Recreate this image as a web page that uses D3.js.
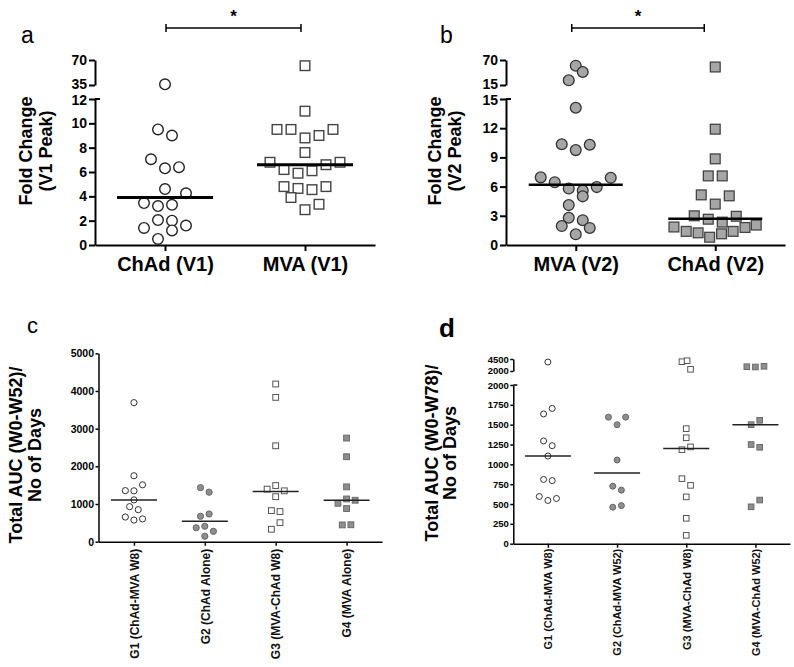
<!DOCTYPE html>
<html><head><meta charset="utf-8">
<script src="https://cdn.jsdelivr.net/npm/d3@7"></script>
<style>
body{margin:0;background:#fff}
svg{display:block}
text{font-family:"Liberation Sans",Arial,sans-serif}
</style></head><body>
<svg id="chart" width="794" height="667"></svg>
<script>
// ---------- Panel a ----------
const aCats = ["ChAd (V1)", "MVA (V1)"];
const aChAd = [36, 9.5, 9.0, 7.05, 6.3, 6.4, 4.6, 4.25, 3.45, 3.2, 3.3, 2.05, 2.0, 1.4, 1.2, 1.6, 0.5];
const aChAdSlot = [0, -1, 1, -2, 0, 2, 0, 3, -3, -1, 1, -1, 1, -3, 1, 3, -1];
const aMVA = [62, 11, 9.5, 9.5, 8.8, 9.0, 9.5, 7.6, 6.8, 6.2, 5.9, 6.1, 6.6, 6.8, 4.8, 4.65, 4.55, 4.8, 3.9, 2.9, 3.35];
const aMVASlot = [0, 0, -4, -2, 0, 2, 4, 0, -5, -3, -1, 1, 3, 5, -3, -1, 1, 3, -2, 0, 2];
const aMedians = [3.9, 6.6];
const aLowTicks = [0, 2, 4, 6, 8, 10, 12];
const aUpTicks = [35, 70];

// ---------- Panel b ----------
const bCats = ["MVA (V2)", "ChAd (V2)"];
const bMVA = [57.5, 43.6, 25.3, 14.1, 10.35, 9.75, 10.3, 6.95, 6.45, 5.8, 5.6, 5.95, 6.9, 5.0, 4.1, 2.8, 2.55, 1.95, 1.75, 1.1];
const bMVASlot = [0, 1, -1, 0, -2, 0, 2, -5, -3, -1, 1, 3, 5, 1, -1, -1, 1, -2, 2, 0];
const bChAd = [54.6, 11.9, 8.85, 7.1, 7.1, 5.15, 5.05, 4.2, 3.0, 2.65, 2.35, 2.95, 1.85, 1.4, 1.25, 0.8, 1.15, 1.4, 1.8, 2.05];
const bChAdSlot = [0, 0, 0, -1, 1, -2, 2, 0, -3, -1, 1, 3, -5.9, -4.15, -2.45, -0.8, 0.9, 2.55, 4.25, 5.85];
const bMedians = [6.2, 2.7];
const bLowTicks = [0, 3, 6, 9, 12, 15];
const bUpTicks = [15, 70];

// ---------- Panel c ----------
const cCats = ["G1 (ChAd-MVA W8)", "G2 (ChAd Alone)", "G3 (MVA-ChAd W8)", "G4 (MVA Alone)"];
const cG1 = [3690, 1750, 1510, 1355, 1350, 1110, 930, 850, 655, 575, 605];
const cG1Slot = [0, 0, 2, -2, 0, 0, -1, 1, -2, 0, 2];
const cG2 = [1435, 1315, 735, 675, 370, 410, 275, 145];
const cG2Slot = [-1, 1, 1, -1, -2, 0, 2, 0];
const cG3 = [4185, 3830, 2545, 1490, 1395, 1350, 1195, 825, 800, 505, 330];
const cG3Slot = [0, 0, 0, 0, -2, 2, 0, -1, 1, 1, -1];
const cG4 = [2750, 2255, 1455, 1135, 1020, 1100, 880, 445, 450];
const cG4Slot = [0, 0, 0, 0, -2, 2, 0, -1, 1];
const cMedians = [1110, 540, 1330, 1100];
const cTicks = [0, 1000, 2000, 3000, 4000, 5000];

// ---------- Panel d ----------
const dCats = ["G1 (ChAd-MVA W8)", "G2 (ChAd-MVA W52)", "G3 (MVA-ChAd W8)", "G4 (MVA-ChAd W52)"];
const dG1 = [3875, 1705, 1635, 1295, 1235, 1105, 810, 795, 595, 545, 570];
const dG1Slot = [0, 1, -1, -1, 1, 0, -1, 1, -2, 0, 2];
const dG2 = [1595, 1595, 1500, 1055, 725, 675, 460, 480];
const dG2Slot = [-2, 2, 0, 0, -1, 1, -1, 1];
const dG3 = [3940, 4145, 2355, 1450, 1335, 1220, 1185, 820, 735, 590, 320, 105];
const dG3Slot = [-1, 0.2, 1, 0, 0, 1, -1, -1, 1, 0, 0, 0];
const dG4 = [2895, 2835, 2980, 1555, 1500, 1250, 1215, 465, 550];
const dG4Slot = [-2, 0, 2, 1, -1, -1, 1, -1, 1];
const dMedians = [1105, 890, 1200, 1500];
const dLowTicks = [0, 250, 500, 750, 1000, 1250, 1500, 1750, 2000];
const dUpTicks = [2000, 4500];

const svg = d3.select("#chart");
const fmt = d3.format("d");

function drawPanel(p) {
  const g = svg.append("g");
  const x = d3.scalePoint().domain(p.cats).range(p.xRange).padding(0.5);
  const yL = d3.scaleLinear().domain(p.lowDom).range(p.lowRange);
  const yU = p.upDom ? d3.scaleLinear().domain(p.upDom).range(p.upRange) : null;
  const yv = v => (yU && v > p.lowDom[1]) ? yU(v) : yL(v);
  const ax = p.xRange[0];

  const gl = g.append("g").attr("transform", `translate(${ax},0)`)
    .call(d3.axisLeft(yL).tickValues(p.lowTicks).tickFormat(fmt).tickSize(p.tick).tickSizeOuter(0).tickPadding(p.pad));
  let gu = null;
  if (yU) {
    gu = g.append("g").attr("transform", `translate(${ax},0)`)
      .call(d3.axisLeft(yU).tickValues(p.upTicks).tickFormat(fmt).tickSize(p.tick).tickSizeOuter(0).tickPadding(p.pad));
    g.append("line").attr("x1", ax).attr("x2", ax + p.cap)
      .attr("y1", yL(p.lowDom[1])).attr("y2", yL(p.lowDom[1]))
      .attr("stroke", "#000").attr("stroke-width", p.axW);
  }
  const gx = g.append("g").attr("transform", `translate(0,${p.lowRange[0]})`)
    .call(d3.axisBottom(x).tickSize(p.xTick).tickSizeOuter(0).tickPadding(p.xPad));

  [gl, gu, gx].forEach(a => {
    if (!a) return;
    a.attr("font-family", null).attr("font-size", null);
    a.selectAll(".domain, .tick line").attr("stroke", "#000").attr("stroke-width", p.axW);
  });
  [gl, gu].forEach(a => {
    if (!a) return;
    a.selectAll("text").attr("font-size", p.tickFont).attr("font-weight", "bold").attr("fill", "#000");
  });
  if (gu) {
    // keep the two labels at the axis break from colliding
    gu.selectAll(".tick").filter(v => v === p.upDom[0]).select("text").attr("dy", p.breakDyUp);
    gl.selectAll(".tick").filter(v => v === p.lowDom[1]).select("text").attr("dy", p.breakDyLow);
  }
  if (p.rotLabels) {
    gx.selectAll("text")
      .attr("transform", "rotate(-90)")
      .attr("text-anchor", "end")
      .attr("x", -p.xPad).attr("y", 0).attr("dy", "0.35em")
      .attr("font-size", p.catFont).attr("font-weight", "bold").attr("fill", "#111");
  } else {
    gx.selectAll("text").attr("font-size", p.catFont).attr("font-weight", "bold").attr("fill", "#000");
  }

  p.series.forEach((s, i) => {
    const cx = x(p.cats[i]);
    const pts = s.values.map((v, j) => ({ v, sl: s.slots[j] }));
    if (s.shape === "circle") {
      g.append("g").selectAll("circle").data(pts).join("circle")
        .attr("cx", d => cx + d.sl * p.slotPx)
        .attr("cy", d => yv(d.v))
        .attr("r", p.r)
        .attr("fill", s.fill).attr("stroke", s.stroke).attr("stroke-width", p.mw);
    } else {
      g.append("g").selectAll("rect").data(pts).join("rect")
        .attr("x", d => cx + d.sl * p.slotPx - p.sq / 2)
        .attr("y", d => yv(d.v) - p.sq / 2)
        .attr("width", p.sq).attr("height", p.sq)
        .attr("fill", s.fill).attr("stroke", s.stroke).attr("stroke-width", p.mw);
    }
  });

  g.append("g").selectAll("line").data(p.medians).join("line")
    .attr("x1", (m, i) => x(p.cats[i]) - p.medHalf)
    .attr("x2", (m, i) => x(p.cats[i]) + p.medHalf)
    .attr("y1", m => yv(m)).attr("y2", m => yv(m))
    .attr("stroke", p.medColor).attr("stroke-width", p.medW);

  p.yTitle.forEach((t, i) => {
    g.append("text")
      .attr("transform", `translate(${p.yTitleX[i]},${p.yTitleY}) rotate(-90)`)
      .attr("text-anchor", "middle")
      .attr("font-size", p.yTitleFont).attr("font-weight", "bold").attr("fill", "#000")
      .text(t);
  });

  g.append("text").attr("x", p.letterPos[0]).attr("y", p.letterPos[1])
    .attr("font-size", p.letterFont).attr("font-weight", p.letterWeight).attr("fill", "#000")
    .text(p.letter);

  if (p.sig) {
    const x1 = x(p.cats[0]) + p.sig.dx1, x2 = x(p.cats[1]) + p.sig.dx2, y = p.sig.y;
    const br = g.append("g").attr("stroke", "#000").attr("stroke-width", 1.5);
    br.append("line").attr("x1", x1).attr("x2", x2).attr("y1", y).attr("y2", y);
    br.append("line").attr("x1", x1).attr("x2", x1).attr("y1", y - 4).attr("y2", y + 4);
    br.append("line").attr("x1", x2).attr("x2", x2).attr("y1", y - 4).attr("y2", y + 4);
    g.append("text").attr("x", (x1 + x2) / 2).attr("y", y - 6)
      .attr("text-anchor", "middle").attr("font-size", 17).attr("font-weight", "bold")
      .text("*");
  }
}

drawPanel({
  cats: aCats, xRange: [95, 375],
  lowDom: [0, 12], lowRange: [245, 99], upDom: [35, 70], upRange: [85, 60],
  lowTicks: aLowTicks, upTicks: aUpTicks, tick: 6, pad: 2, cap: 5, axW: 2,
  breakDyUp: "0.22em", breakDyLow: "0.42em",
  xTick: 6, xPad: 6, tickFont: 14, catFont: 20,
  series: [
    { values: aChAd, slots: aChAdSlot, shape: "circle", fill: "#fff", stroke: "#222" },
    { values: aMVA, slots: aMVASlot, shape: "square", fill: "#fff", stroke: "#444" }
  ],
  slotPx: 7, r: 5.3, sq: 9.6, mw: 1.4,
  medians: aMedians, medHalf: 48, medW: 3, medColor: "#000",
  yTitle: ["Fold Change", "(V1 Peak)"], yTitleX: [32, 52], yTitleY: 151, yTitleFont: 18,
  letter: "a", letterPos: [21, 43], letterFont: 23, letterWeight: "normal",
  sig: { dx1: 1, dx2: -4, y: 28 }
});

drawPanel({
  cats: bCats, xRange: [506, 785],
  lowDom: [0, 15], lowRange: [245, 99], upDom: [15, 70], upRange: [85, 60],
  lowTicks: bLowTicks, upTicks: bUpTicks, tick: 6, pad: 2, cap: 5, axW: 2,
  breakDyUp: "0.22em", breakDyLow: "0.42em",
  xTick: 6, xPad: 6, tickFont: 14, catFont: 20,
  series: [
    { values: bMVA, slots: bMVASlot, shape: "circle", fill: "#a6a6a6", stroke: "#333" },
    { values: bChAd, slots: bChAdSlot, shape: "square", fill: "#a6a6a6", stroke: "#444" }
  ],
  slotPx: 7, r: 5.4, sq: 9.8, mw: 1.3,
  medians: bMedians, medHalf: 47, medW: 2.5, medColor: "#000",
  yTitle: ["Fold Change", "(V2 Peak)"], yTitleX: [441, 461], yTitleY: 151, yTitleFont: 18,
  letter: "b", letterPos: [440, 43], letterFont: 23, letterWeight: "normal",
  sig: { dx1: -4, dx2: -11, y: 28 }
});

drawPanel({
  cats: cCats, xRange: [98.5, 382],
  lowDom: [0, 5000], lowRange: [541.7, 353.3],
  lowTicks: cTicks, tick: 3, pad: 1.5, axW: 1.5,
  xTick: 4, xPad: 7, tickFont: 10.5, catFont: 12, rotLabels: true,
  series: [
    { values: cG1, slots: cG1Slot, shape: "circle", fill: "#fff", stroke: "#333" },
    { values: cG2, slots: cG2Slot, shape: "circle", fill: "#8e8e8e", stroke: "#666" },
    { values: cG3, slots: cG3Slot, shape: "square", fill: "#fff", stroke: "#555" },
    { values: cG4, slots: cG4Slot, shape: "square", fill: "#8e8e8e", stroke: "#6a6a6a" }
  ],
  slotPx: 4.3, r: 3.1, sq: 5.8, mw: 1,
  medians: cMedians, medHalf: 23, medW: 1.5, medColor: "#222",
  yTitle: ["Total AUC (W0-W52)/", "No of Days"], yTitleX: [22, 41], yTitleY: 455, yTitleFont: 18,
  letter: "c", letterPos: [27, 333], letterFont: 22, letterWeight: "normal"
});

drawPanel({
  cats: dCats, xRange: [513.3, 790],
  lowDom: [0, 2000], lowRange: [543.7, 385], upDom: [2000, 4500], upRange: [371, 359],
  lowTicks: dLowTicks, upTicks: dUpTicks, tick: 3, pad: 1.5, cap: 4, axW: 1.5,
  breakDyUp: "0.3em", breakDyLow: "0.4em",
  xTick: 4, xPad: 5, tickFont: 9.5, catFont: 11, rotLabels: true,
  series: [
    { values: dG1, slots: dG1Slot, shape: "circle", fill: "#fff", stroke: "#333" },
    { values: dG2, slots: dG2Slot, shape: "circle", fill: "#8e8e8e", stroke: "#666" },
    { values: dG3, slots: dG3Slot, shape: "square", fill: "#fff", stroke: "#555" },
    { values: dG4, slots: dG4Slot, shape: "square", fill: "#8e8e8e", stroke: "#6a6a6a" }
  ],
  slotPx: 4.3, r: 3, sq: 5.6, mw: 1,
  medians: dMedians, medHalf: 23, medW: 1.5, medColor: "#222",
  yTitle: ["Total AUC (W0-W78)/", "No of Days"], yTitleX: [438, 456], yTitleY: 453, yTitleFont: 18,
  letter: "d", letterPos: [439, 337], letterFont: 26, letterWeight: "bold"
});
</script>
</body></html>
